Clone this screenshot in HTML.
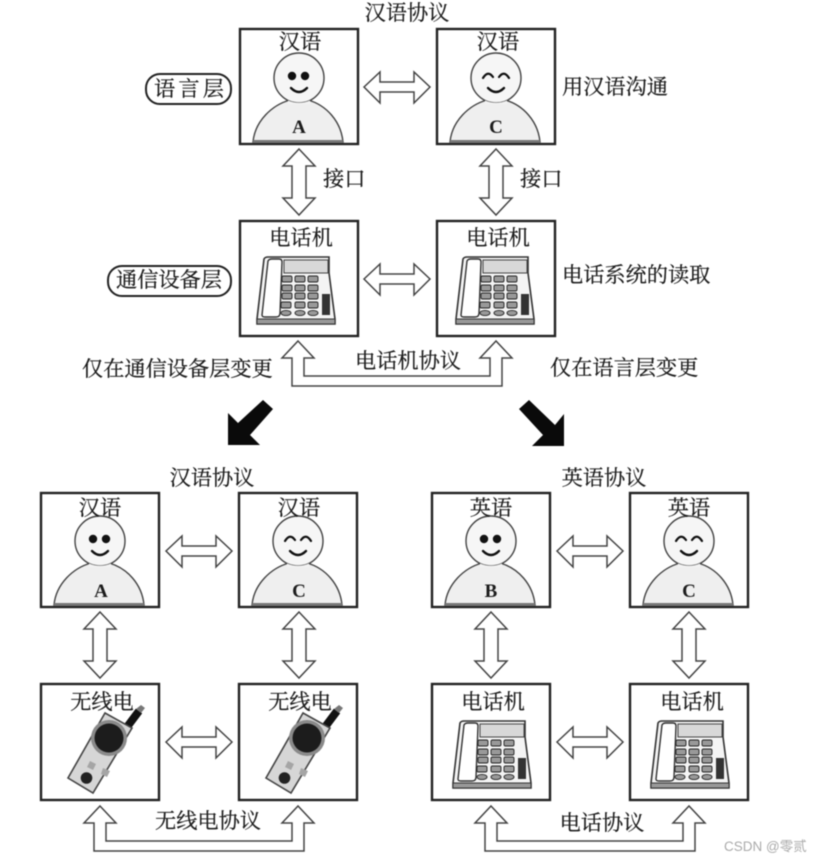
<!DOCTYPE html>
<html lang="zh">
<head>
<meta charset="utf-8">
<style>
html,body{margin:0;padding:0;background:#fff;width:819px;height:861px;overflow:hidden}
svg{display:block;filter:blur(.65px)}
text{font-family:"Liberation Serif","Noto Serif CJK SC",serif;font-size:21.2px;fill:#1c1c1c;stroke:#1c1c1c;stroke-width:.25;text-anchor:middle}
.l{text-anchor:start}
.box{fill:#fff;stroke:#222;stroke-width:2.4}
.arr{fill:#fff;stroke:#444;stroke-width:1.5;stroke-linejoin:miter}
.wm{font-family:"Liberation Sans","Noto Sans CJK SC",sans-serif;font-size:13.5px;fill:#aaa;stroke:none;text-anchor:start}
.ab{font-size:19px;font-weight:bold;stroke:none}
</style>
</head>
<body>
<svg width="819" height="861" viewBox="0 0 819 861" xmlns="http://www.w3.org/2000/svg">
<defs>
  <g id="person">
    <path d="M13 113 C15 92 32 76 50 71 L68 71 C86 76 101 92 103 113 Z" fill="#efefef" stroke="#444" stroke-width="1.4"/>
    <circle cx="59" cy="49" r="25" fill="#f6f6f6" stroke="#444" stroke-width="1.4"/>
    <path d="M48 71.500 Q59 76 70 71.500 L70 75 L48 75 Z" fill="#f2f2f2"/>
    <rect x="13" y="111" width="90" height="2.5" fill="#777"/>
  </g>
  <g id="eyesA">
    <circle cx="52" cy="47" r="4.2" fill="#111"/><circle cx="65" cy="47" r="4.2" fill="#111"/>
    <path d="M51 59 Q59 67 67 59" fill="none" stroke="#111" stroke-width="2.4" stroke-linecap="round"/>
  </g>
  <g id="eyesC">
    <path d="M46 49 Q51 41 56 48 M62 48 Q67 41 72 49" fill="none" stroke="#111" stroke-width="2.2" stroke-linecap="round"/>
    <path d="M51 59 Q59 67 67 59" fill="none" stroke="#111" stroke-width="2.4" stroke-linecap="round"/>
  </g>
  <path id="h" class="arr" d="M0 15 L16 0 V10 H50 V0 L66 15 L50 31 V20 H16 V31 Z"/>
  <path id="v" class="arr" d="M16 0 L32 17 H23 V49 H32 L16 66 L0 49 H9 V17 H0 Z"/>
  <g id="phone">
    <path d="M0 62 L7 2 Q8 0 11 0 H72 L72 16 L78 62 V67 H0 Z" fill="#f4f4f4" stroke="#333" stroke-width="1.6"/>
    <rect x="0" y="62" width="78" height="5" fill="#999" stroke="#333" stroke-width="1"/>
    <path d="M5 58 L11 4 Q12 2 15 2 H22 Q25 2 25 5 L23 56 Q23 60 19 60 H8 Q5 60 5 58 Z" fill="#fff" stroke="#333" stroke-width="1.4"/>
    <rect x="27" y="3" width="44" height="13" fill="#d8d8d8" stroke="#444" stroke-width="1"/>
    <g fill="#999" stroke="#222" stroke-width=".9">
      <rect x="25" y="19" width="10" height="6" rx="1.5"/><rect x="38" y="19" width="10" height="6" rx="1.5"/><rect x="51" y="19" width="10" height="6" rx="1.5"/>
      <rect x="25" y="28" width="10" height="6" rx="1.5"/><rect x="38" y="28" width="10" height="6" rx="1.5"/><rect x="51" y="28" width="10" height="6" rx="1.5"/>
      <rect x="25" y="36" width="10" height="6" rx="1.5"/><rect x="38" y="36" width="10" height="6" rx="1.5"/><rect x="51" y="36" width="10" height="6" rx="1.5"/>
      <rect x="24" y="45" width="10" height="6" rx="1.5"/><rect x="38" y="45" width="10" height="6" rx="1.5"/><rect x="51" y="45" width="10" height="6" rx="1.5"/>
      <ellipse cx="29" cy="56" rx="5" ry="2.6"/><ellipse cx="43" cy="56" rx="5" ry="2.6"/><ellipse cx="56" cy="56" rx="5" ry="2.6"/>
    </g>
    <rect x="65" y="37" width="8" height="21" fill="#333"/>
  </g>
  <g id="radio">
    <path d="M86 43 L98 27" stroke="#111" stroke-width="8" fill="none"/>
    <path d="M95 25 L100 21 L104 24 L100 29 Z" fill="#777"/>
    <path d="M64 29 L91 44 L52 109 L27 94 Z" fill="#d6d6d6" stroke="#444" stroke-width="1.6"/>
    <circle cx="68" cy="54" r="18" fill="#8a8a8a"/>
    <circle cx="68" cy="54" r="14.5" fill="#1c1c1c"/>
    <path d="M49 77 l6 3 -3 6 -6 -3 Z M62 84 l7 3 -3 6 -6 -3 Z" fill="#a5a5a5"/>
    <circle cx="45.500" cy="94" r="5.800" fill="#222"/>
  </g>
  <path id="u" class="arr" d="M0 0 L16 17 H6 V35 H192 V17 H182 L198 0 L214 17 H204 V45 H-6 V17 H-16 Z"/>
</defs>

<!-- top boxes -->
<rect class="box" x="240" y="29" width="118" height="115"/>
<rect class="box" x="437" y="29" width="118" height="115"/>
<rect class="box" x="240" y="221" width="118" height="115"/>
<rect class="box" x="437" y="221" width="118" height="115"/>
<use href="#person" x="240" y="29"/><use href="#eyesA" x="240" y="29"/>
<use href="#person" x="437" y="29"/><use href="#eyesC" x="437" y="29"/>
<use href="#phone" x="257" y="257"/><use href="#phone" x="456" y="257"/>

<!-- lower boxes -->
<rect class="box" x="41" y="493" width="118" height="114"/>
<rect class="box" x="239" y="493" width="118" height="114"/>
<rect class="box" x="432" y="493" width="118" height="114"/>
<rect class="box" x="630" y="493" width="118" height="114"/>
<rect class="box" x="41" y="684" width="118" height="116"/>
<rect class="box" x="239" y="684" width="118" height="116"/>
<rect class="box" x="432" y="684" width="118" height="116"/>
<rect class="box" x="630" y="684" width="118" height="116"/>
<use href="#person" x="41" y="492"/><use href="#eyesA" x="41" y="492"/>
<use href="#person" x="239" y="492"/><use href="#eyesC" x="239" y="492"/>
<use href="#person" x="432" y="492"/><use href="#eyesA" x="432" y="492"/>
<use href="#person" x="630" y="492"/><use href="#eyesC" x="630" y="492"/>
<use href="#radio" x="41" y="684"/><use href="#radio" x="239" y="684"/>
<use href="#phone" x="453" y="721"/><use href="#phone" x="651" y="721"/>

<!-- arrows -->
<use href="#h" x="364" y="72"/><use href="#h" x="364" y="264"/>
<use href="#h" x="166" y="536"/><use href="#h" x="557" y="536"/>
<use href="#h" x="166" y="727"/><use href="#h" x="557" y="727"/>
<use href="#v" x="283" y="149"/><use href="#v" x="480" y="149"/>
<use href="#v" x="84" y="612"/><use href="#v" x="283" y="612"/>
<use href="#v" x="475" y="612"/><use href="#v" x="673" y="612"/>
<use href="#u" x="298" y="341"/>
<use href="#u" x="100" y="806"/>
<use href="#u" x="491" y="806"/>
<polygon points="263,400 273,409 250,435 260,445 228,445 228,413 238,423" fill="#0a0a0a"/>
<polygon points="519,409 529,400 555,425 564,414 564,446 532,446 543,435" fill="#0a0a0a"/>

<!-- pills -->
<rect x="146" y="74" width="85" height="30" rx="14" fill="#fff" stroke="#222" stroke-width="2"/>
<rect x="108" y="266" width="123" height="30" rx="14" fill="#fff" stroke="#222" stroke-width="2"/>

<!-- labels -->
<text x="407" y="20">汉语协议</text>
<text x="300" y="49">汉语</text>
<text x="498" y="49">汉语</text>
<text x="189" y="96" textLength="70" lengthAdjust="spacing">语言层</text>
<text class="ab" x="299" y="133">A</text>
<text class="ab" x="496" y="133">C</text>
<text class="l" x="562" y="94">用汉语沟通</text>
<text class="l" x="323" y="186">接口</text>
<text class="l" x="520" y="186">接口</text>
<text x="301" y="245">电话机</text>
<text x="498" y="245">电话机</text>
<text x="169" y="287">通信设备层</text>
<text class="l" x="562" y="282">电话系统的读取</text>
<text x="408" y="368">电话机协议</text>
<text class="l" x="82" y="376">仅在通信设备层变更</text>
<text class="l" x="550" y="375">仅在语言层变更</text>
<text x="212" y="485">汉语协议</text>
<text x="604" y="485">英语协议</text>
<text x="100" y="515">汉语</text>
<text x="299" y="515">汉语</text>
<text x="491" y="515">英语</text>
<text x="689" y="515">英语</text>
<text class="ab" x="101" y="597">A</text>
<text class="ab" x="299" y="597">C</text>
<text class="ab" x="491" y="597">B</text>
<text class="ab" x="689" y="597">C</text>
<text x="102" y="709">无线电</text>
<text x="300" y="709">无线电</text>
<text x="493" y="709">电话机</text>
<text x="692" y="709">电话机</text>
<text x="208" y="828">无线电协议</text>
<text x="602" y="830">电话协议</text>
<text class="wm" x="724" y="851">CSDN @零贰</text>
</svg>
</body>
</html>
